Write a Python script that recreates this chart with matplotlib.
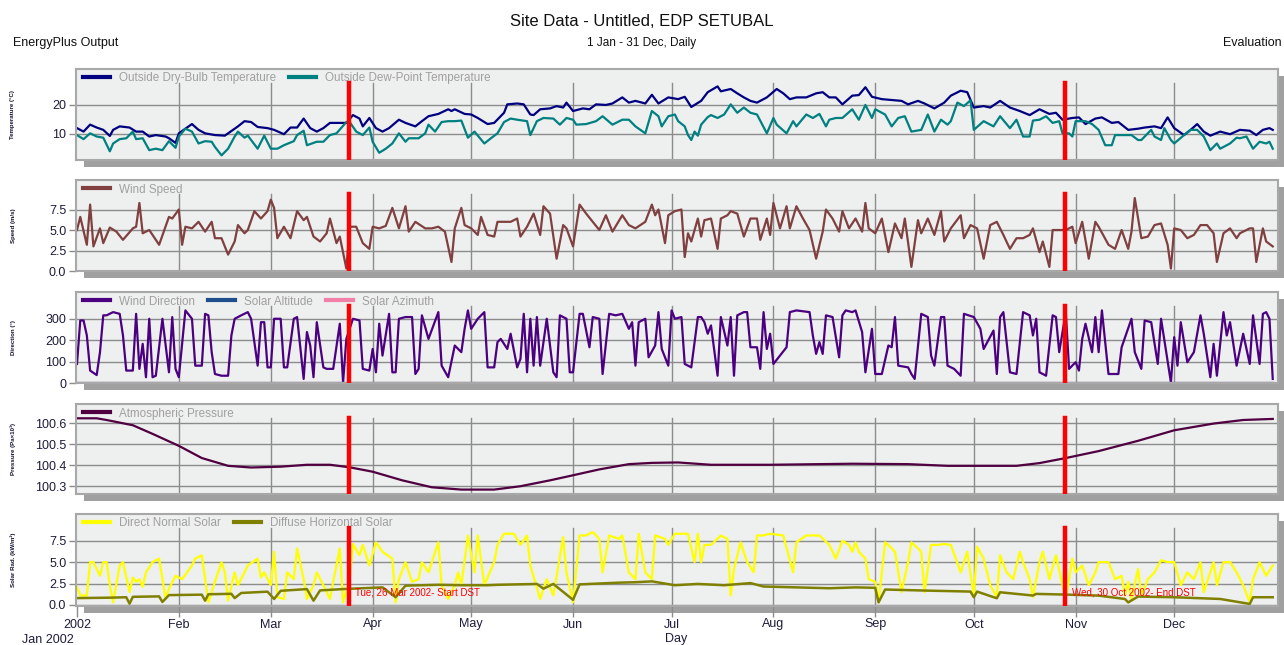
import matplotlib.pyplot as plt
from matplotlib.patches import Rectangle

plt.rcParams['font.family'] = ['Liberation Sans', 'DejaVu Sans']

# --- data (day of year, value) ---
month_start = [0, 31, 59, 90, 120, 151, 181, 212, 243, 273, 304, 334]
month_labels = ['2002', 'Feb', 'Mar', 'Apr', 'May', 'Jun', 'Jul', 'Aug', 'Sep', 'Oct', 'Nov', 'Dec']
dst_day = [82.7, 300.8]
dst_text = ['Tue, 26 Mar 2002- Start DST', 'Wed, 30 Oct 2002- End DST']

drybulb_day = [0, 2, 4, 6, 8, 10, 11, 13, 16, 18, 20, 22, 24, 27, 28, 30, 31, 34, 35, 37, 39, 42, 45, 46, 49,
               51, 53, 55, 58, 60, 63, 65, 67, 69, 71, 73, 75, 77, 79, 82, 84, 86, 87, 89, 91, 93, 95, 98,
               100, 103, 105, 107, 110, 113, 114, 115, 118, 120, 122, 125, 127, 130, 131, 134, 136, 138, 139,
               141, 144, 146, 148, 149, 151, 154, 156, 158, 161, 163, 166, 168, 170, 173, 175, 177, 180, 183,
               185, 187, 190, 192, 195, 196, 199, 201, 203, 205, 207, 210, 213, 215, 217, 219, 222, 225, 227,
               229, 231, 233, 236, 238, 240, 242, 245, 248, 251, 253, 256, 258, 261, 264, 266, 269, 271, 273,
               276, 278, 281, 284, 287, 290, 293, 296, 298, 300, 303, 305, 307, 310, 312, 315, 317, 320, 323,
               325, 328, 330, 332, 334, 337, 339, 341, 343, 345, 348, 351, 354, 357, 359, 361, 363, 364]
drybulb_c = [12.0, 10.8, 13.2, 12.2, 11.4, 9.3, 11.4, 12.6, 12.2, 10.8, 10.8, 9.1, 9.6, 9.1, 8.5, 6.9, 10.2,
             12.6, 13.4, 11.4, 10.2, 9.6, 9.4, 10.2, 12.6, 14.4, 14.1, 12.4, 12.0, 11.4, 9.9, 12.2, 12.2,
             15.3, 12.0, 10.8, 12.0, 13.8, 13.8, 13.8, 16.5, 15.3, 12.6, 15.5, 12.0, 10.8, 12.0, 14.9, 13.8,
             12.6, 14.4, 16.1, 16.9, 18.5, 17.9, 18.5, 16.9, 16.7, 15.5, 13.4, 13.8, 17.3, 20.2, 20.5, 20.2,
             16.7, 16.5, 18.5, 18.8, 19.6, 19.1, 20.8, 17.9, 18.8, 18.5, 20.2, 20.0, 20.5, 22.6, 20.8, 21.4,
             20.5, 23.5, 20.5, 22.6, 22.0, 22.8, 19.3, 21.4, 24.4, 26.4, 24.7, 25.5, 24.0, 22.6, 21.4, 20.8,
             22.6, 25.5, 24.0, 22.0, 22.6, 22.6, 24.0, 24.4, 22.6, 22.6, 20.2, 23.2, 23.4, 26.1, 22.8, 22.0,
             21.7, 21.4, 20.2, 21.4, 20.5, 18.8, 20.8, 23.2, 24.9, 24.4, 19.1, 19.6, 19.1, 21.4, 19.1, 17.9,
             16.5, 18.5, 16.9, 17.3, 14.9, 15.5, 15.7, 13.4, 15.3, 15.7, 13.8, 14.1, 11.4, 11.8, 12.2, 12.6,
             12.0, 15.7, 12.0, 9.6, 11.4, 13.4, 10.8, 9.4, 10.8, 9.9, 11.4, 11.1, 9.6, 11.4, 12.0, 11.4]

dewpoint_day = [0, 2, 4, 6, 8, 10, 11, 13, 15, 17, 18, 20, 22, 24, 26, 28, 30, 31, 33, 35, 37, 39, 41, 42, 44,
                46, 48, 49, 51, 52, 55, 57, 59, 61, 63, 66, 67, 69, 70, 73, 75, 77, 79, 82, 83, 85, 87, 89,
                90, 92, 94, 96, 98, 100, 101, 104, 106, 107, 109, 111, 113, 115, 117, 119, 121, 124, 126, 128,
                130, 132, 134, 137, 138, 140, 142, 145, 147, 149, 151, 152, 155, 158, 160, 163, 166, 168, 170,
                173, 175, 177, 178, 180, 182, 183, 185, 186, 187, 188, 189, 190, 192, 193, 195, 197, 199, 201,
                203, 205, 207, 210, 212, 213, 216, 218, 219, 222, 224, 226, 228, 229, 231, 233, 236, 238, 240,
                242, 243, 246, 248, 250, 252, 254, 257, 259, 261, 263, 265, 266, 268, 270, 272, 273, 276, 279,
                281, 284, 286, 288, 290, 291, 293, 295, 297, 299, 300, 302, 303, 304, 307, 309, 311, 313, 315,
                316, 318, 321, 323, 324, 327, 328, 330, 331, 333, 334, 337, 339, 341, 343, 345, 347, 348, 351,
                353, 354, 356, 358, 360, 362, 363, 364]
dewpoint_c = [9.6, 8.2, 10.2, 9.1, 8.7, 4.0, 6.7, 8.2, 8.5, 10.8, 8.2, 8.5, 4.4, 4.9, 4.4, 7.5, 5.2, 9.1,
              11.8, 10.8, 6.7, 7.5, 7.3, 5.5, 2.6, 4.9, 9.1, 10.8, 8.7, 9.4, 4.9, 9.4, 4.9, 4.9, 6.1, 7.5, 9.6,
              11.1, 6.1, 7.3, 7.3, 9.6, 10.2, 14.1, 14.1, 10.8, 9.6, 12.2, 7.3, 3.5, 4.9, 6.7, 10.2, 7.3, 8.5,
              8.5, 10.2, 13.2, 10.8, 14.1, 14.4, 14.4, 14.6, 8.7, 10.8, 6.7, 8.5, 10.2, 14.1, 15.3, 14.9, 14.4,
              9.6, 14.4, 15.5, 15.3, 13.2, 15.5, 14.9, 13.2, 13.4, 14.4, 16.1, 13.2, 14.9, 14.9, 12.6, 10.2,
              17.9, 16.1, 12.6, 16.1, 16.7, 14.4, 12.6, 9.6, 7.9, 10.8, 9.4, 13.2, 15.8, 16.5, 15.5, 16.7,
              20.2, 17.3, 19.1, 17.3, 16.7, 10.2, 15.5, 13.2, 10.2, 14.4, 12.6, 16.7, 15.5, 16.9, 12.6, 14.9,
              15.5, 15.5, 18.5, 14.9, 20.0, 15.5, 18.5, 16.7, 12.6, 15.5, 16.1, 10.8, 11.4, 16.7, 10.8, 14.9,
              13.2, 14.4, 20.8, 19.6, 21.6, 11.4, 14.4, 12.6, 16.1, 12.0, 14.9, 9.1, 9.1, 14.6, 14.9, 16.1,
              13.8, 14.4, 10.2, 10.2, 9.1, 14.4, 14.4, 13.4, 11.4, 6.1, 6.1, 9.6, 9.6, 9.6, 7.9, 7.9, 11.4,
              9.1, 7.9, 12.0, 7.9, 6.7, 9.6, 11.4, 11.4, 9.1, 4.4, 6.7, 4.9, 6.7, 8.7, 8.5, 9.1, 4.9, 7.3,
              6.7, 7.3, 4.9]

windspeed_day = [0, 1, 3, 4, 5, 7, 8, 10, 12, 14, 17, 18, 19, 20, 22, 25, 28, 29, 31, 32, 33, 35, 37, 39, 41,
                 42, 44, 46, 48, 49, 51, 52, 54, 56, 58, 59, 60, 61, 63, 65, 67, 69, 70, 72, 74, 76, 77, 79,
                 80, 82, 83, 85, 87, 89, 90, 92, 94, 96, 98, 100, 101, 103, 106, 108, 110, 112, 114, 115, 117,
                 118, 120, 122, 123, 125, 127, 128, 130, 132, 134, 135, 137, 139, 141, 142, 144, 146, 148, 149,
                 151, 153, 155, 157, 159, 161, 163, 166, 168, 170, 173, 175, 176, 177, 179, 180, 182, 184, 185,
                 186, 187, 189, 190, 191, 193, 195, 196, 198, 199, 201, 203, 205, 207, 208, 210, 211, 212, 214,
                 216, 217, 219, 221, 223, 225, 227, 228, 230, 232, 233, 235, 237, 239, 240, 241, 243, 245, 247,
                 249, 251, 252, 254, 256, 257, 259, 261, 263, 264, 266, 269, 270, 272, 274, 276, 278, 280, 282,
                 284, 286, 288, 290, 291, 293, 294, 296, 297, 299, 301, 303, 304, 306, 308, 310, 311, 314, 316,
                 318, 320, 321, 322, 324, 326, 328, 330, 332, 333, 334, 336, 338, 340, 342, 344, 346, 347, 349,
                 351, 353, 354, 357, 358, 359, 361, 362, 364]
windspeed_ms = [5.0, 6.6, 3.2, 8.1, 3.0, 5.2, 3.4, 5.3, 4.8, 3.8, 5.2, 5.4, 8.3, 4.6, 5.0, 3.2, 6.6, 6.4,
                7.5, 3.2, 5.4, 5.2, 6.0, 4.8, 6.0, 4.0, 4.0, 2.0, 3.6, 5.6, 4.6, 5.0, 7.3, 6.4, 7.3, 8.7, 7.7,
                4.0, 5.4, 4.0, 7.3, 6.2, 6.6, 4.2, 3.6, 4.6, 6.4, 3.4, 4.2, 0.3, 5.4, 5.4, 3.4, 2.7, 5.4, 5.2,
                5.5, 7.7, 5.2, 7.9, 4.8, 6.0, 5.2, 5.2, 5.4, 4.8, 1.1, 5.2, 7.7, 5.6, 5.2, 4.4, 6.6, 4.4, 4.2,
                6.0, 6.0, 6.0, 6.4, 4.2, 5.4, 7.0, 4.4, 7.9, 7.0, 1.5, 5.6, 5.2, 3.0, 8.1, 7.0, 6.0, 5.0, 6.8,
                4.8, 6.8, 5.6, 5.2, 6.0, 8.1, 6.8, 7.5, 3.4, 6.8, 7.3, 7.5, 1.7, 4.6, 3.6, 6.4, 4.2, 6.2, 6.4,
                2.7, 6.4, 6.8, 7.3, 7.0, 4.2, 6.4, 6.4, 3.8, 6.4, 4.4, 8.3, 5.2, 7.9, 5.2, 7.9, 6.4, 5.0, 1.5,
                4.8, 7.5, 6.4, 4.8, 7.3, 5.2, 6.4, 4.8, 8.3, 5.2, 4.6, 6.4, 2.3, 5.8, 4.0, 6.4, 0.5, 6.2, 4.6,
                6.4, 4.4, 7.3, 3.6, 5.2, 6.8, 4.0, 5.6, 5.2, 1.5, 5.6, 6.0, 4.4, 2.7, 4.0, 4.0, 4.4, 5.2, 2.3,
                3.6, 0.5, 5.0, 5.0, 5.0, 5.4, 3.4, 6.0, 1.5, 6.0, 5.4, 3.2, 2.7, 5.0, 2.7, 4.8, 8.9, 4.0, 4.2,
                5.6, 5.8, 3.2, 0.3, 5.2, 5.0, 4.0, 4.4, 5.6, 5.6, 4.6, 1.1, 4.6, 5.2, 4.0, 4.6, 5.2, 5.2, 1.1,
                5.2, 3.6, 3.0]

winddir_day = [0, 1, 2, 3, 4, 6, 7, 8, 9, 11, 13, 14, 15, 17, 18, 19, 20, 21, 22, 23, 24, 26, 28, 29, 30,
               31, 33, 35, 36, 38, 39, 40, 41, 42, 44, 46, 47, 48, 50, 52, 53, 55, 56, 57, 58, 59, 60, 62,
               63, 64, 66, 67, 69, 70, 71, 72, 73, 75, 76, 78, 80, 81, 82, 84, 86, 87, 89, 90, 91, 92, 93,
               95, 96, 97, 98, 100, 102, 103, 104, 105, 107, 110, 111, 113, 115, 117, 118, 119, 120, 122,
               124, 125, 126, 127, 128, 129, 131, 132, 134, 135, 136, 137, 138, 139, 140, 141, 143, 145, 146,
               147, 149, 150, 151, 153, 154, 156, 157, 159, 160, 162, 164, 166, 168, 169, 170, 171, 173, 174,
               176, 177, 178, 180, 181, 182, 184, 185, 187, 189, 190, 191, 192, 193, 195, 196, 198, 199, 200,
               201, 203, 204, 205, 207, 208, 209, 210, 211, 212, 216, 217, 219, 223, 224, 225, 226, 227, 228,
               230, 232, 233, 234, 236, 237, 239, 240, 242, 243, 245, 247, 248, 249, 250, 253, 254, 255, 257,
               259, 260, 261, 263, 264, 265, 267, 269, 270, 273, 275, 276, 279, 280, 281, 282, 284, 286, 288,
               290, 291, 292, 293, 295, 297, 298, 299, 300, 301, 302, 304, 305, 306, 307, 309, 310, 311, 312,
               314, 317, 318, 321, 322, 324, 325, 327, 329, 330, 333, 334, 335, 336, 338, 340, 342, 343, 345,
               346, 347, 349, 350, 351, 353, 355, 357, 358, 360, 361, 362, 363, 364]
winddir_deg = [89, 292, 292, 222, 58, 37, 144, 316, 316, 331, 323, 222, 58, 58, 323, 66, 183, 27, 300, 27,
               34, 300, 50, 308, 66, 27, 339, 300, 81, 81, 323, 316, 144, 42, 34, 34, 222, 300, 316, 331, 300,
               81, 284, 284, 73, 73, 300, 300, 73, 73, 300, 308, 19, 238, 175, 27, 284, 73, 66, 66, 277, 3,
               206, 300, 292, 66, 58, 159, 50, 277, 128, 323, 50, 50, 300, 308, 308, 42, 66, 316, 206, 331,
               81, 27, 175, 144, 253, 339, 253, 300, 331, 73, 73, 73, 191, 206, 159, 230, 73, 113, 323, 50,
               300, 81, 308, 81, 300, 50, 27, 316, 300, 50, 50, 323, 323, 167, 308, 300, 42, 323, 316, 323,
               253, 284, 81, 284, 300, 120, 175, 331, 159, 81, 339, 300, 308, 89, 73, 308, 308, 284, 230,
               269, 34, 308, 175, 308, 34, 316, 331, 331, 167, 167, 66, 331, 159, 230, 89, 167, 331, 339,
               331, 222, 136, 191, 136, 316, 308, 120, 316, 339, 331, 339, 238, 50, 253, 42, 42, 175, 167,
               308, 81, 73, 42, 19, 323, 308, 128, 81, 308, 308, 81, 66, 34, 323, 308, 253, 159, 245, 42, 308,
               331, 50, 42, 331, 316, 222, 300, 50, 34, 316, 308, 144, 238, 331, 66, 97, 58, 206, 277, 144,
               308, 144, 339, 42, 42, 167, 300, 144, 66, 292, 284, 89, 300, 3, 214, 81, 284, 97, 144, 316,
               230, 27, 183, 34, 331, 222, 284, 81, 230, 89, 316, 89, 323, 331, 300, 19]

solar_day = [0, 364]
solar_altitude = [0, 0]
solar_azimuth = [0, 0]

pressure_day = [0, 6, 9, 17, 23, 31, 38, 46, 53, 62, 70, 77, 83, 90, 99, 108, 117, 127, 135, 144, 151, 159,
                168, 175, 183, 193, 211, 236, 253, 265, 286, 293, 301, 311, 323, 334, 346, 355, 364]
pressure_kpa = [100.623, 100.623, 100.615, 100.590, 100.549, 100.492, 100.434, 100.397, 100.389, 100.393,
                100.402, 100.402, 100.390, 100.369, 100.328, 100.295, 100.284, 100.284, 100.300, 100.328,
                100.352, 100.380, 100.405, 100.411, 100.413, 100.402, 100.402, 100.407, 100.405, 100.397,
                100.397, 100.410, 100.434, 100.467, 100.516, 100.566, 100.598, 100.615, 100.620]

direct_day = [0, 1, 3, 4, 5, 7, 8, 9, 10, 11, 13, 14, 16, 17, 18, 19, 20, 21, 23, 25, 27, 28, 30, 32, 35, 36,
              38, 40, 42, 44, 45, 46, 48, 49, 51, 52, 55, 56, 57, 59, 60, 61, 63, 64, 66, 67, 69, 70, 72, 73,
              75, 77, 78, 80, 81, 83, 84, 86, 87, 89, 91, 93, 96, 97, 98, 100, 102, 104, 105, 107, 110, 111,
              113, 115, 116, 117, 119, 121, 122, 124, 127, 128, 130, 133, 135, 137, 138, 141, 143, 145, 148,
              149, 151, 153, 155, 157, 159, 160, 162, 165, 166, 168, 170, 171, 173, 175, 176, 179, 180, 182,
              183, 186, 188, 189, 190, 191, 193, 196, 198, 199, 200, 202, 204, 206, 207, 209, 211, 215, 218,
              219, 222, 226, 229, 231, 233, 235, 236, 237, 238, 240, 241, 243, 244, 246, 247, 249, 251, 253,
              254, 256, 257, 258, 260, 262, 264, 266, 269, 271, 273, 274, 276, 278, 280, 281, 283, 285, 287,
              288, 290, 291, 293, 294, 296, 298, 300, 301, 303, 304, 306, 308, 310, 311, 314, 316, 318, 319,
              320, 321, 323, 324, 326, 328, 330, 332, 334, 336, 338, 340, 342, 343, 346, 347, 349, 351, 353,
              355, 357, 358, 360, 362, 364]
direct_kwh = [2.1, 1.1, 1.1, 5.0, 5.0, 3.4, 5.0, 5.0, 2.3, 0.3, 4.6, 5.0, 1.5, 3.2, 2.7, 3.0, 2.1, 3.8, 5.0,
              5.4, 0.7, 1.9, 3.4, 3.0, 4.6, 5.4, 5.8, 0.3, 2.7, 5.0, 3.8, 0.5, 3.8, 2.3, 3.8, 4.6, 5.4, 3.2,
              3.8, 2.3, 6.2, 0.9, 0.7, 3.8, 3.0, 6.6, 3.0, 0.7, 2.3, 3.8, 2.3, 0.7, 2.7, 6.6, 0.3, 3.0, 7.1,
              5.8, 7.0, 4.6, 7.3, 6.2, 5.4, 0.3, 3.0, 5.0, 2.7, 3.0, 5.0, 3.8, 7.3, 2.3, 0.7, 2.3, 3.8, 2.3,
              8.1, 3.8, 8.1, 2.3, 5.0, 7.0, 8.3, 8.3, 7.0, 8.1, 4.6, 0.7, 3.0, 1.1, 7.9, 3.8, 0.3, 8.1, 8.1,
              8.5, 7.7, 3.8, 8.1, 7.7, 8.1, 3.8, 3.0, 8.3, 3.8, 3.0, 8.1, 7.7, 7.0, 8.3, 8.3, 8.3, 5.0, 8.3,
              5.0, 7.0, 7.0, 8.1, 7.7, 1.1, 4.2, 7.3, 5.0, 3.8, 8.1, 8.1, 8.3, 8.1, 3.8, 7.3, 8.1, 8.1, 7.0,
              5.4, 7.5, 7.0, 6.2, 7.3, 6.2, 5.4, 3.0, 2.7, 0.3, 7.3, 7.0, 6.2, 1.5, 5.0, 7.3, 6.6, 6.2, 1.5,
              7.0, 7.0, 7.1, 7.0, 3.8, 6.2, 1.1, 6.8, 5.4, 2.3, 0.9, 5.8, 3.8, 3.0, 6.2, 5.0, 3.0, 0.9, 5.0,
              6.2, 3.0, 5.8, 2.3, 0.7, 5.4, 3.8, 4.6, 2.3, 3.8, 5.0, 5.0, 3.0, 3.4, 1.1, 2.7, 0.7, 4.2, 1.1,
              3.0, 3.8, 5.2, 5.0, 5.0, 2.3, 3.8, 3.0, 5.0, 1.5, 5.0, 2.3, 5.0, 5.0, 3.8, 2.3, 0.3, 3.0, 5.0,
              3.4, 4.6]

diffuse_day = [0, 10, 15, 16, 17, 25, 26, 28, 38, 39, 40, 47, 48, 50, 58, 60, 62, 70, 72, 74, 81, 90, 93, 97,
               100, 110, 117, 125, 128, 140, 142, 145, 151, 153, 165, 170, 175, 182, 189, 197, 205, 209, 217,
               229, 237, 243, 244, 246, 258, 272, 273, 274, 280, 281, 291, 292, 301, 311, 319, 320, 323, 334,
               348, 357, 358, 364]
diffuse_kwh = [0.8, 0.85, 0.9, 0.15, 0.95, 1.0, 0.35, 1.15, 1.2, 0.5, 1.25, 1.3, 0.8, 1.4, 1.55, 0.7, 1.65,
               1.85, 0.5, 1.7, 1.85, 2.0, 2.05, 0.9, 2.25, 2.35, 2.3, 2.3, 2.35, 2.45, 1.9, 2.45, 0.6, 2.4,
               2.6, 2.65, 2.75, 2.3, 2.45, 2.3, 2.55, 2.15, 2.07, 1.95, 2.05, 2.0, 0.3, 1.8, 1.68, 1.56, 0.9,
               1.56, 0.78, 1.48, 1.1, 1.29, 1.21, 1.09, 0.7, 0.3, 0.98, 0.9, 0.7, 0.12, 0.9, 0.9]

# --- layout (pixels of the 1284x645 canvas) ---
W, H = 1284, 645
LEFT, RIGHT = 76, 1278
STRIP = 14
GRID = '#8c8c8c'
TXT = '#1c1c3c'

fig = plt.figure(figsize=(W / 100, H / 100), dpi=100)


def add_panel(top, bottom, ylim, yticks, fmt, ylabel):
    ax = fig.add_axes([LEFT / W, 1 - bottom / H, (RIGHT - LEFT) / W, (bottom - top) / H])
    fig.add_artist(Rectangle(((LEFT + 8) / W, 1 - (bottom + 7) / H), (RIGHT - LEFT) / W, (bottom - top) / H,
                             transform=fig.transFigure, facecolor='#a0a0a0', edgecolor='none', zorder=-5))
    ax.set_facecolor('#eeefef')
    ax.set_xlim(-0.3, 365.6)
    ax.set_ylim(*ylim)
    frac = (bottom - top - STRIP) / (bottom - top)
    for m in month_start[1:]:
        ax.axvline(m, ymax=frac, color=GRID, lw=1, zorder=1)
    for d in dst_day:
        ax.axvline(d, ymax=frac, color='red', lw=3.2, zorder=6)
    ax.set_yticks(yticks)
    ax.set_yticklabels([fmt.format(v) for v in yticks])
    ax.yaxis.grid(True, color=GRID, lw=1)
    ax.set_axisbelow(True)
    ax.tick_params(axis='y', length=5, width=1, color=GRID, labelsize=9, labelcolor=TXT, pad=2)
    ax.set_xticks(month_start)
    ax.tick_params(axis='x', length=0, labelbottom=False)
    for s in ax.spines.values():
        s.set_color('#a8a8a8')
        s.set_linewidth(1.5)
    fig.text(13 / W, 1 - (top + bottom) / 2 / H, ylabel, rotation=90, fontsize=4.4, fontweight='bold',
             ha='center', va='center', color='#101030')
    return ax


def add_legend(ax):
    leg = ax.legend(loc='upper left', bbox_to_anchor=(0.003, 1.0), ncol=3, frameon=False, fontsize=8.4,
                    labelcolor='#a0a0a0', borderaxespad=0, borderpad=0.3, handlelength=2.3,
                    handletextpad=0.8, columnspacing=1.1)
    for ln in leg.get_lines():
        ln.set_linewidth(3)


ax1 = add_panel(69, 160, (1.0, 32.4), [10, 20], '{:.0f}', 'Temperature (°C)')
ax1.plot(drybulb_day, drybulb_c, color='#000080', lw=1.6, label='Outside Dry-Bulb Temperature')
ax1.plot(dewpoint_day, dewpoint_c, color='#008080', lw=1.6, label='Outside Dew-Point Temperature')
add_legend(ax1)

ax2 = add_panel(180, 271, (0, 11.1), [0, 2.5, 5, 7.5], '{:.1f}', 'Speed (m/s)')
ax2.plot(windspeed_day, windspeed_ms, color='#804040', lw=1.6, label='Wind Speed')
add_legend(ax2)

ax3 = add_panel(292, 383, (0, 425), [0, 100, 200, 300], '{:.0f}', 'Direction (°)')
ax3.plot(winddir_day, winddir_deg, color='#4b0082', lw=1.6, label='Wind Direction')
ax3.plot(solar_day, solar_altitude, color='#1f4e8c', lw=1.6, label='Solar Altitude')
ax3.plot(solar_day, solar_azimuth, color='#f080a8', lw=1.6, label='Solar Azimuth')
add_legend(ax3)

ax4 = add_panel(404, 494, (100.263, 100.691), [100.3, 100.4, 100.5, 100.6], '{:.1f}', 'Pressure (Pa×10³)')
ax4.plot(pressure_day, pressure_kpa, color='#500040', lw=1.6, label='Atmospheric Pressure')
add_legend(ax4)

ax5 = add_panel(514, 606, (-0.12, 10.6), [0, 2.5, 5, 7.5], '{:.1f}', 'Solar Rad. (kW/m²)')
ax5.plot(direct_day, direct_kwh, color='#ffff00', lw=1.6, label='Direct Normal Solar')
ax5.plot(diffuse_day, diffuse_kwh, color='#808000', lw=1.8, label='Diffuse Horizontal Solar')
add_legend(ax5)
for d, t in zip(dst_day, dst_text):
    ax5.text(d + 2, 1.5, t, color='red', fontsize=7, va='center', ha='left', zorder=7)
ax5.set_xticklabels(month_labels)
ax5.tick_params(axis='x', length=8, width=1, color=GRID, labelbottom=True, labelsize=9, labelcolor=TXT, pad=1)

# --- header / footer texts ---
fig.text(0.5, 1 - 21 / H, 'Site Data - Untitled, EDP SETUBAL', ha='center', va='center', fontsize=12, color='#101010')
fig.text(13 / W, 1 - 43 / H, 'EnergyPlus Output', ha='left', va='center', fontsize=9, color='#101010')
fig.text(0.5, 1 - 43 / H, '1 Jan - 31 Dec, Daily', ha='center', va='center', fontsize=8.5, color='#101010')
fig.text(1282 / W, 1 - 43 / H, 'Evaluation', ha='right', va='center', fontsize=9, color='#101010')
fig.text(676 / W, 1 - 639 / H, 'Day', ha='center', va='center', fontsize=9, color=TXT)
fig.text(22 / W, 1 - 640 / H, 'Jan 2002', ha='left', va='center', fontsize=9, color=TXT)

fig.savefig('out.png', dpi=100, facecolor='white')
